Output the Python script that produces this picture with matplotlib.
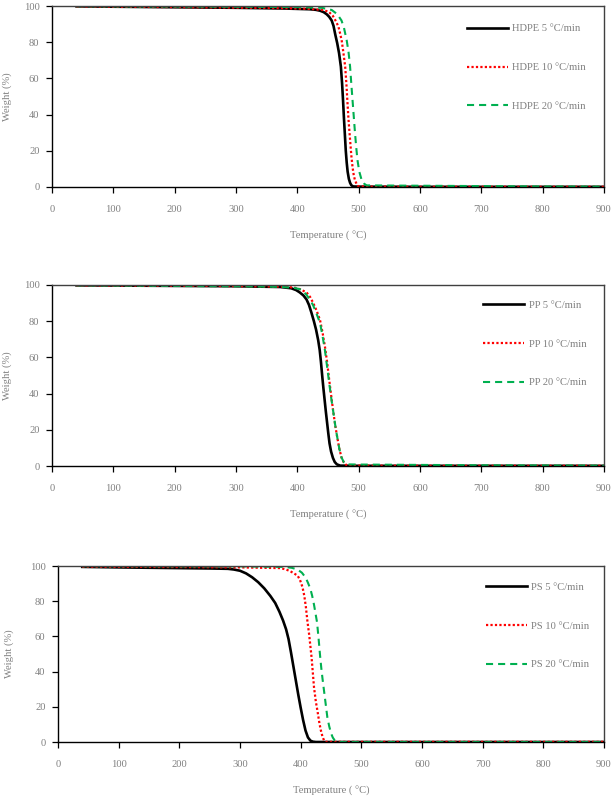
import matplotlib
matplotlib.use("Agg")
import matplotlib.pyplot as plt

plt.rcParams['font.family'] = ['Liberation Serif', 'DejaVu Serif']

# ---------------- data ----------------
hdpe5_T = [40, 100, 200, 300, 380, 420, 430, 437, 443, 448, 452, 456, 459, 462, 465, 468, 471, 473,
           474.5, 476, 477.5, 479, 480.5, 482, 484, 486, 488, 491, 500, 600, 700, 800, 900]
hdpe5_W = [99.8, 99.6, 99.3, 99.0, 98.6, 98.2, 97.9, 97.4, 96.6, 95.4, 94.0, 92, 89, 84, 79.5, 74, 66.5, 57,
           48, 38, 29, 20, 13.5, 8.5, 4.5, 2.3, 1.0, 0.3, 0.2, 0.1, 0.1, 0.1, 0.1]

hdpe10_T = [40, 100, 200, 300, 380, 420, 440, 451, 458, 463, 467, 470, 472.5, 475, 478, 480, 481.5, 483.5,
            486, 488, 490, 492, 494, 496.5, 499, 510, 600, 700, 800, 900]
hdpe10_W = [99.8, 99.6, 99.4, 99.1, 98.8, 98.4, 97.9, 96.9, 94.5, 91.5, 88.6, 84.5, 80.5, 74.5, 66.5, 57, 48, 37,
            26, 17.5, 11, 6.5, 3.7, 1.8, 0.5, 0.2, 0.1, 0.1, 0.1, 0.1]

hdpe20_T = [40, 100, 200, 300, 400, 440, 456, 465, 472, 476, 480.5, 483.5, 486, 488, 490, 492, 494, 496,
            498, 501, 505, 509, 513, 550, 600, 700, 800, 900]
hdpe20_W = [99.9, 99.8, 99.7, 99.6, 99.4, 99.0, 97.8, 95.5, 92, 88, 81, 74.5, 66.5, 57, 48, 39, 30, 22,
            15, 8.5, 3.7, 1.8, 0.9, 0.8, 0.7, 0.5, 0.3, 0.2]

pp5_T = [40, 100, 200, 300, 372, 390, 398, 404, 410, 415, 419, 423, 427, 430.5, 434, 436.5, 438.5, 440.5,
         442.5, 444.5, 446.5, 448.5, 450.5, 452.5, 455, 458, 461, 464.5, 470, 500, 600, 700, 800, 900]
pp5_W = [99.8, 99.7, 99.5, 99.3, 98.9, 98.2, 97.2, 95.9, 94.2, 92, 89, 84.7, 80, 75.4, 69.5, 64, 57.5, 50,
         43, 36.5, 30, 24, 18, 12.5, 8, 4.5, 2.2, 0.9, 0.2, 0.1, 0.1, 0.1, 0.1, 0.1]

pp10_T = [40, 100, 200, 300, 372, 395, 405, 415, 421, 426, 431.5, 437, 441, 445, 448.5, 452, 455.5, 459,
          462, 465, 468.5, 472, 476, 480, 500, 600, 700, 800, 900]
pp10_W = [99.8, 99.7, 99.6, 99.4, 99.1, 98.6, 97.6, 95.9, 93.3, 90, 85.8, 80.6, 74, 66, 57.5, 47.5, 38, 29,
          22, 16, 9.5, 4.7, 1.8, 0.5, 0.2, 0.1, 0.1, 0.1, 0.1]

pp20_T = [40, 100, 200, 300, 372, 395, 404, 410, 415, 420.5, 426, 431.5, 437, 441, 445, 448.5, 452, 455.5,
          459, 462, 465, 468.5, 472, 476, 480, 500, 600, 700, 800, 900]
pp20_W = [99.8, 99.7, 99.5, 99.3, 99.0, 98.4, 97.7, 96.5, 94.5, 92, 88.6, 84, 79, 72, 64, 55, 45.8, 37,
          29, 22, 16, 9.5, 4.7, 2.0, 0.9, 0.8, 0.6, 0.4, 0.3, 0.2]

ps5_T = [40, 100, 200, 250, 280, 290, 300, 310, 320, 330, 340, 350, 358, 365, 371, 376, 380, 384, 388,
         392, 396, 400, 404, 408, 412, 416, 420, 425, 500, 600, 700, 800, 900]
ps5_W = [99.5, 99.2, 98.8, 98.6, 98.4, 98.0, 97.3, 95.8, 93.6, 90.8, 87.3, 83, 79, 74, 69, 64, 58.5, 51, 43,
         35, 27, 19.5, 12.5, 6.5, 2.6, 0.8, 0.2, 0.0, 0.0, 0.0, 0.0, 0.0, 0.0]

ps10_T = [40, 100, 200, 300, 350, 367, 376, 383, 389, 395, 399, 403, 406, 408.5, 411, 414, 416, 418, 420,
          422, 425, 428, 430.5, 433, 436, 439, 442, 500, 600, 700, 800, 900]
ps10_W = [99.6, 99.5, 99.4, 99.2, 98.9, 98.8, 98.0, 97, 95.8, 94.5, 92, 88, 83, 77, 69, 61, 54.5, 48, 39.5,
          31, 23, 17, 11.5, 7, 3, 0.5, 0.1, 0.1, 0.1, 0.1, 0.1, 0.1]

ps20_T = [40, 100, 200, 300, 372, 385, 395, 402, 408, 412, 416, 419, 422, 425, 427, 429.5, 432, 434, 436,
          438, 440, 442, 444, 447, 450, 453, 456, 460, 463, 500, 600, 700, 800, 900]
ps20_W = [99.9, 99.9, 99.8, 99.8, 99.5, 99.0, 98, 96.2, 93.5, 90.5, 87, 83, 78, 72, 68, 59, 49, 42, 36,
          30.5, 25, 19.5, 14, 9, 5, 2.5, 1, 0.2, 0.0, 0.0, 0.0, 0.0, 0.0, 0.0]

panels = [
    ("HDPE", [(hdpe5_T, hdpe5_W), (hdpe10_T, hdpe10_W), (hdpe20_T, hdpe20_W)]),
    ("PP", [(pp5_T, pp5_W), (pp10_T, pp10_W), (pp20_T, pp20_W)]),
    ("PS", [(ps5_T, ps5_W), (ps10_T, ps10_W), (ps20_T, ps20_W)]),
]
rates = ["5 °C/min", "10 °C/min", "20 °C/min"]
x_ticks = [0, 100, 200, 300, 400, 500, 600, 700, 800, 900]
y_ticks = [0, 20, 40, 60, 80, 100]
x_label = "Temperature ( °C)"
y_label = "Weight (%)"

# ---------------- layout (pixels) ----------------
W, H = 614, 802
boxes = [(52, 604, 6, 187), (52, 604, 285, 466), (58, 604, 566, 742)]
legend_anchor = [(0.752, 0.900), (0.781, 0.915), (0.784, 0.906)]
ylabel_x = [7, 7, 9]

styles = [
    dict(color="black", lw=1.9, ls="-"),
    dict(color="#FF0000", lw=1.6, ls=(0, (1, 1))),
    dict(color="#00B050", lw=1.5, ls=(0, (3.4, 2.4))),
]
grey = "#808080"
fs = 7.6

fig = plt.figure(figsize=(W / 100, H / 100), dpi=100)
for (name, series), (l, r, t, b), anc, ylx in zip(panels, boxes, legend_anchor, ylabel_x):
    ax = fig.add_axes([l / W, 1 - b / H, (r - l) / W, (b - t) / H])
    for (T, Wt), st, rate in zip(series, styles, rates):
        ax.plot(T, Wt, label=f"{name} {rate}", solid_joinstyle="round", **st)
    ax.set_xlim(0, 900)
    ax.set_ylim(0, 100)
    ax.set_xticks(x_ticks)
    ax.set_yticks(y_ticks)
    ax.tick_params(axis="x", direction="out", length=4, width=0.9, colors="black",
                   labelcolor=grey, labelsize=fs, pad=9)
    ax.tick_params(axis="y", direction="out", length=4, width=0.9, colors="black",
                   labelcolor=grey, labelsize=fs, pad=5)
    for s in ["left", "bottom"]:
        ax.spines[s].set_color("black")
        ax.spines[s].set_linewidth(1.0)
    for s in ["top", "right"]:
        ax.spines[s].set_color("#404040")
        ax.spines[s].set_linewidth(1.0)
    ax.set_xlabel(x_label, color=grey, fontsize=fs, va="center")
    ax.xaxis.set_label_coords(0.5, -49 / (b - t))
    ax.set_ylabel(y_label, color=grey, fontsize=fs, va="center")
    ax.yaxis.set_label_coords((ylx - l) / (r - l), 0.5)
    leg = ax.legend(loc="upper left", bbox_to_anchor=anc, frameon=False, fontsize=fs,
                    handlelength=3.9, handletextpad=0.4, labelspacing=2.78,
                    borderpad=0, borderaxespad=0)
    for txt in leg.get_texts():
        txt.set_color(grey)

fig.savefig("out.png", dpi=100)
